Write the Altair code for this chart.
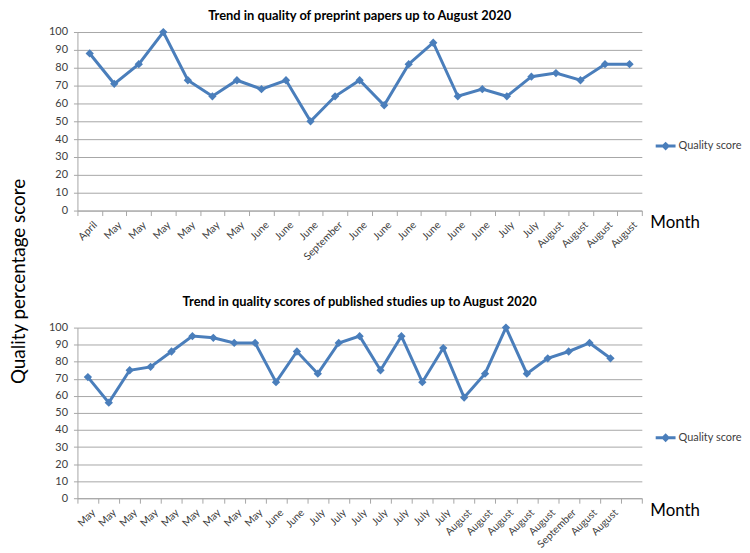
import altair as alt
import pandas as pd

# ---------------- data ----------------
top_labels = ["April", "May", "May", "May", "May", "May", "May", "June", "June", "June",
              "September", "June", "June", "June", "June", "June", "June", "July", "July",
              "August", "August", "August", "August"]
top_values = [88, 71, 82, 100, 73, 64, 73, 68, 73, 50, 64, 73, 59, 82, 94, 64, 68, 64,
              75, 77, 73, 82, 82]

bottom_labels = ["May", "May", "May", "May", "May", "May", "May", "May", "May", "June", "June",
                 "July", "July", "July", "July", "July", "July", "July",
                 "August", "August", "August", "August", "August", "September", "August", "August"]
bottom_values = [71, 56, 75, 77, 86, 95, 94, 91, 91, 68, 86, 73, 91, 95, 75, 95, 68, 88,
                 59, 73, 100, 73, 82, 86, 91, 82]

y_ticks = [0, 10, 20, 30, 40, 50, 60, 70, 80, 90, 100]
series_name = "Quality score"
top_title = "Trend in quality of preprint papers up to August 2020"
bottom_title = "Trend in quality scores of published studies up to August 2020"
x_title = "Month"
y_title = "Quality percentage score"

# ---------------- style ----------------
BLUE = "#4A7EBB"
FONT = "Lato"
GRID = "#a6a6a6"
TXT = "#404040"
LEGEND_PATH = "M-1,-0.15L1,-0.15L1,0.15L-1,0.15Z M0,-0.45L0.45,0L0,0.45L-0.45,0Z"


def panel(labels, values, n_slots, title, height, title_offset, legend_y, with_ytitle):
    df = pd.DataFrame({
        "idx": list(range(len(values))),
        "score": values,
        "series": [series_name] * len(values),
    })
    ext = labels + [""] * (n_slots - len(labels))
    label_expr = "[" + ",".join("'" + s + "'" for s in ext) + "][datum.value]"

    x = alt.X(
        "idx:O",
        scale=alt.Scale(type="band", domain=list(range(n_slots)), paddingInner=0, paddingOuter=0),
        axis=alt.Axis(
            title=x_title, labelExpr=label_expr, labelAngle=315, labelAlign="right",
            labelBaseline="top", labelOffset=2, tickBand="extent", tickSize=5, labelPadding=4,
            tickColor=GRID, domainColor=GRID, labelFont=FONT, labelFontSize=10.5,
            labelColor=TXT, grid=False, titleX=577, titleY=17, titleAlign="left",
            titleBaseline="alphabetic", titleFont=FONT, titleFontSize=17,
            titleFontWeight="normal", titleColor="black",
        ),
    )
    yaxis = dict(
        values=y_ticks, grid=True, gridColor=GRID, domainColor=GRID, tickColor=GRID,
        tickSize=4, labelPadding=6, labelFont=FONT, labelFontSize=11, labelColor=TXT,
    )
    if with_ytitle:
        yaxis.update(title=y_title, titleX=-49, titleY=251, titleAngle=270,
                     titleBaseline="bottom", titleFont=FONT, titleFontSize=19,
                     titleFontWeight="normal", titleColor="black")
    else:
        yaxis.update(title=None)
    y = alt.Y("score:Q", scale=alt.Scale(domain=[0, 100]), axis=alt.Axis(**yaxis))

    line = alt.Chart(df).mark_line(color=BLUE, strokeWidth=3).encode(x=x, y=y)
    pts = alt.Chart(df).mark_point(shape="diamond", filled=True, size=70, opacity=1).encode(
        x=x, y=y,
        color=alt.Color(
            "series:N",
            scale=alt.Scale(domain=[series_name], range=[BLUE]),
            legend=alt.Legend(
                title=None, orient="none", legendX=583, legendY=legend_y, padding=0,
                symbolType=LEGEND_PATH, symbolSize=400, symbolStrokeWidth=0,
                labelOffset=3, labelFont=FONT, labelFontSize=11, labelColor=TXT,
            ),
        ),
    )
    return alt.layer(line, pts).properties(
        width=569, height=height,
        title=alt.TitleParams(text=title, font=FONT, fontSize=13, fontWeight="bold",
                              color="black", anchor="middle", frame="group",
                              offset=title_offset, baseline="alphabetic"),
    )


top = panel(top_labels, top_values, 23, top_title, 180, -7, 105, True)
bottom = panel(bottom_labels, bottom_values, 27, bottom_title, 172, 3, 101, False)

chart = (
    alt.vconcat(top, bottom, spacing=118, bounds="flush")
    .resolve_scale(x="independent", y="independent", color="independent")
    .resolve_legend(color="independent")
    .properties(padding={"left": 2, "top": 0, "right": 0, "bottom": 0}, background="white")
    .configure_view(stroke=None)
)

chart.save("out.html", embed_options={"renderer": "svg", "actions": False})
